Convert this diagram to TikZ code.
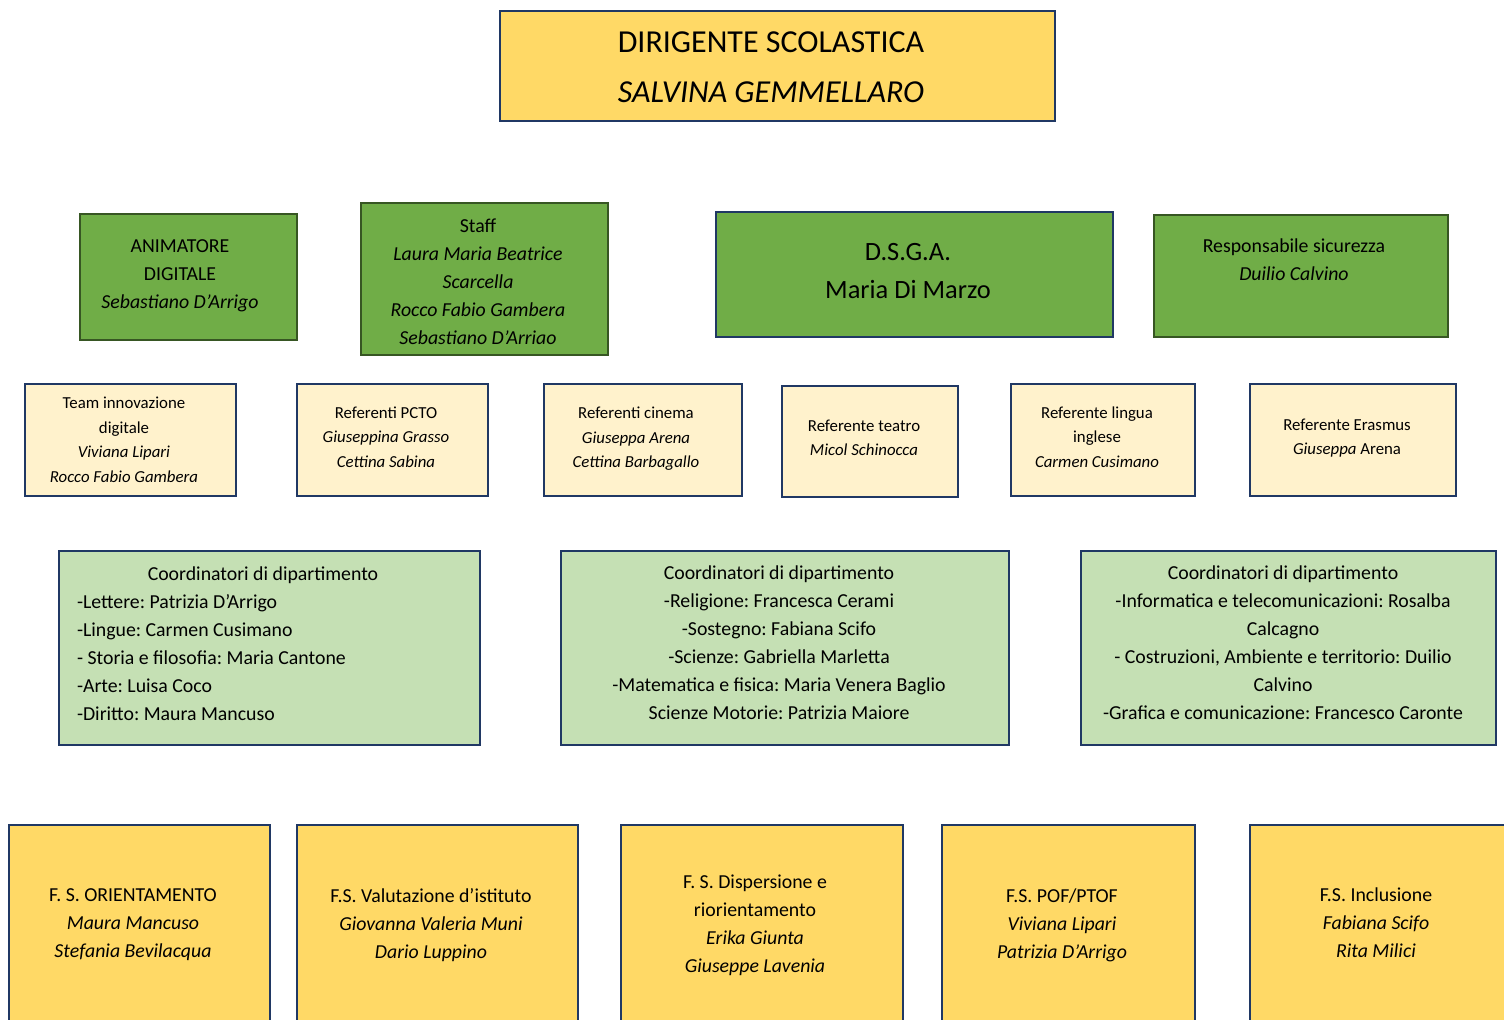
\documentclass[tikz,border=0pt]{standalone}
\usepackage{fontspec}
\setmainfont{Carlito}
\frenchspacing
\usetikzlibrary{fit}
\definecolor{yel}{HTML}{FFD966}
\definecolor{navy}{HTML}{203864}
\definecolor{grn}{HTML}{70AD47}
\definecolor{dgrn}{HTML}{375623}
\definecolor{cream}{HTML}{FFF2CC}
\definecolor{lgrn}{HTML}{C5E0B4}
\tikzset{
  every node/.style={inner sep=0pt, outer sep=0pt},
  base/.style={rectangle, inner sep=0pt, line width=1.4pt},
  yelbox/.style={base, fill=yel, draw=navy},
  grnbox/.style={base, fill=grn, draw=dgrn},
  grnnavy/.style={base, fill=grn, draw=navy},
  crbox/.style={base, fill=cream, draw=navy, line width=1.2pt},
  lgbox/.style={base, fill=lgrn, draw=navy},
  big/.style={align=center, font=\fontsize{16}{25}\selectfont},
  med/.style={align=center, font=\fontsize{13.2}{19}\selectfont},
  norm/.style={align=center, font=\fontsize{9.9}{14}\selectfont},
  normL/.style={align=left, font=\fontsize{9.9}{14}\selectfont},
  small/.style={align=center, font=\fontsize{8.4}{12.25}\selectfont},
}
\begin{document}
\begin{tikzpicture}[x=0.5pt, y=-0.5pt]
\useasboundingbox (0,0) rectangle (1504,1020);
\clip (0,0) rectangle (1504,1020);
\fill[white] (0,0) rectangle (1504,1020);
% top
\node[yelbox, fit={(500,11) (1055,121)}] (dir) {};
\node[big] (dirT) at (771,67) {DIRIGENTE SCOLASTICA\\\textit{SALVINA GEMMELLARO}};
% row 2
\node[grnbox, fit={(80,214) (297,340)}] (anim) {};
\node[norm] (animT) at (180,276) {ANIMATORE\\DIGITALE\\\textit{Sebastiano D'Arrigo}};
\node[grnbox, fit={(361,203) (608,355)}] (staff) {};
\node[norm] (staffT) at (478,282) {Staff\\\textit{Laura Maria Beatrice}\\\textit{Scarcella}\\\textit{Rocco Fabio Gambera}\\\textit{Sebastiano D'Arriao}};
\node[grnnavy, fit={(716,212) (1113,337)}] (dsga) {};
\node[med] (dsgaT) at (908,271) {D.S.G.A.\\Maria Di Marzo};
\node[grnbox, fit={(1154,215) (1448,337)}] (resp) {};
\node[norm] (respT) at (1294,260) {Responsabile sicurezza\\\textit{Duilio Calvino}};
% row 3
\node[crbox, fit={(25,384) (236,496)}] (team) {};
\node[small] (teamT) at (124,440) {Team innovazione\\digitale\\\textit{Viviana Lipari}\\\textit{Rocco Fabio Gambera}};
\node[crbox, fit={(297,384) (488,496)}] (pcto) {};
\node[small] (pctoT) at (386,437) {Referenti PCTO\\\textit{Giuseppina Grasso}\\\textit{Cettina Sabina}};
\node[crbox, fit={(544,384) (742,496)}] (cine) {};
\node[small] (cineT) at (636,439) {Referenti cinema\\\textit{Giuseppa Arena}\\\textit{Cettina Barbagallo}};
\node[crbox, fit={(782,386) (958,497)}] (teat) {};
\node[small] (teatT) at (864,438) {Referente teatro\\\textit{Micol Schinocca}};
\node[crbox, fit={(1011,384) (1195,496)}] (ling) {};
\node[small] (lingT) at (1097,437) {Referente lingua\\inglese\\\textit{Carmen Cusimano}};
\node[crbox, fit={(1250,384) (1456,496)}] (eras) {};
\node[small] (erasT) at (1347,438) {Referente Erasmus\\\textit{Giuseppa} Arena};
% row 4
\node[lgbox, fit={(59,551) (480,745)}] (coA) {};
\node[norm] (coAh) at (263,575) {Coordinatori di dipartimento};
\node[normL, anchor=west] (coAT) at (77,658) {-Lettere: Patrizia D'Arrigo\\-Lingue: Carmen Cusimano\\- Storia e filosofia: Maria Cantone\\-Arte: Luisa Coco\\-Diritto: Maura Mancuso};
\node[lgbox, fit={(561,551) (1009,745)}] (coB) {};
\node[norm] (coBT) at (779,643) {Coordinatori di dipartimento\\-Religione: Francesca Cerami\\-Sostegno: Fabiana Scifo\\-Scienze: Gabriella Marletta\\-Matematica e fisica: Maria Venera Baglio\\Scienze Motorie: Patrizia Maiore};
\node[lgbox, fit={(1081,551) (1496,745)}] (coC) {};
\node[norm] (coCT) at (1283,643) {Coordinatori di dipartimento\\-Informatica e telecomunicazioni: Rosalba\\Calcagno\\- Costruzioni, Ambiente e territorio: Duilio\\Calvino\\-Grafica e comunicazione: Francesco Caronte};
% row 5
\node[yelbox, fit={(9,825) (270,1040)}] (fs1) {};
\node[norm] (fs1T) at (133,925) {F. S. ORIENTAMENTO\\\textit{Maura Mancuso}\\\textit{Stefania Bevilacqua}};
\node[yelbox, fit={(297,825) (578,1040)}] (fs2) {};
\node[norm] (fs2T) at (431,925) {F.S. Valutazione d'istituto\\\textit{Giovanna Valeria Muni}\\\textit{Dario Luppino}};
\node[yelbox, fit={(621,825) (903,1040)}] (fs3) {};
\node[norm] (fs3T) at (755,925) {F. S. Dispersione e\\riorientamento\\\textit{Erika Giunta}\\\textit{Giuseppe Lavenia}};
\node[yelbox, fit={(942,825) (1195,1040)}] (fs4) {};
\node[norm] (fs4T) at (1062,925) {F.S. POF/PTOF\\\textit{Viviana Lipari}\\\textit{Patrizia D'Arrigo}};
\node[yelbox, fit={(1250,825) (1530,1040)}] (fs5) {};
\node[norm] (fs5T) at (1376,923) {F.S. Inclusione\\\textit{Fabiana Scifo}\\\textit{Rita Milici}};
\end{tikzpicture}
\end{document}
